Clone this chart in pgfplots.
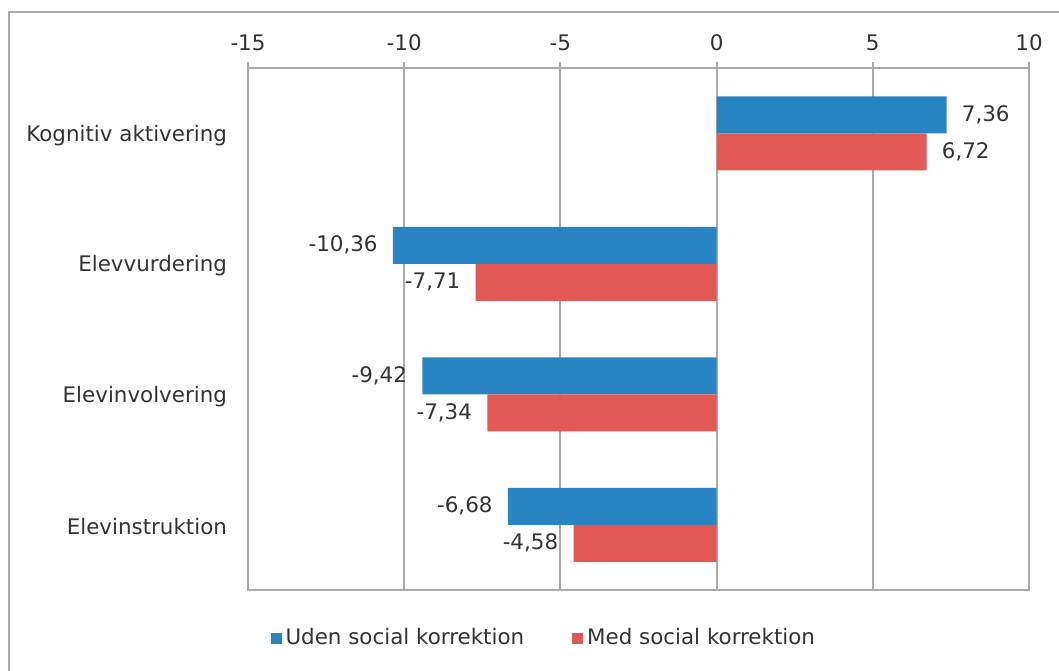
\documentclass[border=0pt]{standalone}
\usepackage{fontspec}
\setmainfont{DejaVu Sans}
\usepackage{pgfplots}
\pgfplotsset{compat=1.18}
\definecolor{bblue}{RGB}{40,132,194}
\definecolor{rred}{RGB}{225,88,85}
\definecolor{gridgray}{RGB}{170,170,170}
\definecolor{txt}{RGB}{51,51,51}

\begin{document}
\begin{tikzpicture}
\useasboundingbox (-124pt,-40pt) rectangle (405.5pt,295pt);
\draw[gridgray, line width=1pt] (-119.5pt,-41pt) -- (-119.5pt,289pt) -- (406pt,289pt);
\begin{axis}[
    at={(0,0)}, anchor=south west,
    width=390.5pt, height=261pt, scale only axis,
    xbar, bar width=18.5pt,
    xmin=-15, xmax=10, xtick={-15,-10,...,10},
    ymin=0.5, ymax=4.5, ytick={1,2,3,4},
    yticklabels={Elevinstruktion,Elevinvolvering,Elevvurdering,Kognitiv aktivering},
    xticklabel pos=upper, xtick pos=upper, tick align=outside,
    major tick length=3pt,
    ytick style={draw=none},
    xtick style={gridgray, line width=1pt},
    xmajorgrids, grid style={gridgray, line width=1pt},
    axis line style={gridgray, line width=1pt},
    ticklabel style={font=\fontsize{10.7}{12.8}\selectfont, text=txt},
    yticklabel style={xshift=-4pt, yshift=-1pt},
    xticklabel style={yshift=2pt},
    /pgf/number format/assume math mode=true,
    nodes near coords,
    every node near coord/.append style={font=\fontsize{10.7}{12.8}\selectfont, text=txt, inner xsep=7.5pt},
    nodes near coords={\pgfmathprintnumber[fixed, fixed zerofill, precision=2, use comma, assume math mode=true]{\pgfplotspointmeta}},
    legend style={at={(0.38,-0.092)}, anchor=center, draw=none, fill=none,
        font=\fontsize{10.7}{12.8}\selectfont, text=txt,
        /tikz/every even column/.append style={column sep=22pt}},
    legend columns=2,
    legend image code/.code={\fill[#1] (0pt,-2.75pt) rectangle (5.5pt,2.75pt);},
]
\addplot[fill=bblue, draw=none, bar shift=9.25pt] coordinates {(-6.68,1) (-9.42,2) (-10.36,3) (7.36,4)};
\addplot[fill=rred, draw=none, bar shift=-9.25pt] coordinates {(-4.58,1) (-7.34,2) (-7.71,3) (6.72,4)};
\legend{Uden social korrektion, Med social korrektion}
\end{axis}
\end{tikzpicture}
\end{document}
